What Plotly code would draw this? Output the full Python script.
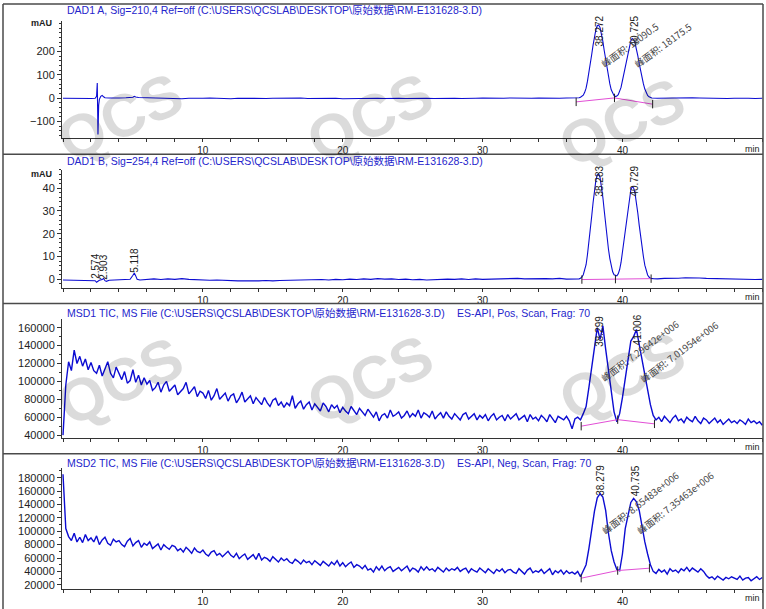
import plotly.graph_objects as go

# ---------------- data ----------------
# DAD1 A, 210 nm : (time [min], signal [mAU])
dad_a_points = [
    (0.0, 0), (0.5, -1), (1.0, 1), (1.5, 0), (2.0, -1), (2.3, 0), (2.4, 8), (2.45, 65), (2.5, -155),
    (2.55, -30), (2.6, -5), (2.7, 8), (2.8, 12), (2.9, 6), (3.0, 2), (3.3, 1), (3.6, 0), (4.0, 1),
    (4.5, 2), (5.0, 4), (5.1, 8), (5.2, 5), (5.4, 3), (6.0, 2), (6.5, 0), (7.0, 1), (7.5, -1), (8.0, 0),
    (8.5, -2), (9.0, 0), (9.5, -1), (10.0, 0), (10.5, 1), (11.0, -1), (11.5, 0), (12.0, -2), (12.5, 0),
    (13.0, -1), (13.5, 1), (14.0, 0), (14.5, -1), (15.0, 0), (15.5, 1), (16.0, -1), (16.5, 0), (17.0, 1),
    (17.5, -1), (18.0, 0), (18.5, -2), (19.0, -1), (19.5, 0), (20.0, -2), (20.5, -1), (21.0, 0), (21.5, -2),
    (22.0, -1), (22.5, 0), (23.0, -1), (23.5, 1), (24.0, 0), (24.5, -1), (25.0, 0), (25.5, 1), (26.0, 0),
    (26.5, -1), (27.0, 0), (27.5, 1), (28.0, 0), (28.5, -1), (29.0, 1), (29.5, 0), (30.0, 1), (30.5, 0),
    (31.0, -1), (31.5, 0), (32.0, 1), (32.5, 0), (33.0, -1), (33.5, 0), (34.0, 1), (34.5, 0), (35.0, -1),
    (35.5, 0), (36.0, 1), (36.5, 0),
    (36.8, 1), (36.9, 2), (37.0, 4), (37.1, 7), (37.2, 13), (37.3, 25), (37.4, 43), (37.5, 73), (37.6, 106),
    (37.7, 144), (37.8, 186), (37.9, 227), (38.0, 264), (38.1, 293), (38.2, 310), (38.3, 313), (38.4, 302),
    (38.5, 277), (38.6, 243), (38.7, 203), (38.8, 162), (38.9, 124), (39.0, 89), (39.1, 61), (39.2, 36),
    (39.3, 21), (39.4, 11), (39.5, 7), (39.6, 9), (39.7, 15), (39.8, 27), (39.9, 46), (40.0, 75), (40.1, 103),
    (40.2, 135), (40.3, 168), (40.4, 200), (40.5, 227), (40.6, 246), (40.7, 255), (40.8, 251), (40.9, 236),
    (41.0, 212), (41.1, 181), (41.2, 148), (41.3, 115), (41.4, 86), (41.5, 61), (41.6, 39), (41.7, 21),
    (41.8, 12), (41.9, 6), (42.0, 3), (42.1, 1),
    (42.5, 0), (43.0, 1), (43.5, 0), (44.0, 2), (44.5, 3), (45.0, 2), (45.5, 1), (46.0, 0), (46.5, 1),
    (47.0, 0), (47.5, -1), (48.0, 0), (48.5, 1), (49.0, 0), (49.5, -1), (50.0, 0),
]

# DAD1 B, 254 nm : (time [min], signal [mAU])
dad_b_points = [
    (0.0, -0.3), (0.5, -0.4), (1.0, -0.2), (1.5, -0.5), (2.0, -0.4), (2.3, -0.6), (2.4, -1.3), (2.5, -0.8),
    (2.6, -0.4), (2.8, -0.1), (2.9, 0.4), (3.0, -0.6), (3.1, -0.9), (3.3, -0.4), (3.6, -0.3), (4.0, -0.4),
    (4.5, -0.2), (4.8, 0.0), (5.0, 1.8), (5.1, 2.8), (5.2, 1.5), (5.3, 0.0), (5.5, -0.3), (6.0, 0.0),
    (6.5, 0.2), (7.0, -0.1), (7.5, 0.2), (8.0, 0.0), (8.5, 0.3), (9.0, 0.0), (9.5, -0.2), (10.0, -0.3),
    (10.5, -0.4), (11.0, -0.3), (11.5, -0.5), (12.0, -0.6), (12.5, -0.7), (13.0, -0.6), (13.5, -0.8),
    (14.0, -0.7), (14.5, -0.5), (15.0, -0.7), (15.5, -0.5), (16.0, -0.4), (16.5, -0.3), (17.0, -0.2),
    (17.5, -0.4), (18.0, -0.3), (18.5, -0.1), (19.0, -0.3), (19.5, 0.0), (20.0, -0.2), (20.5, 0.1),
    (21.0, -0.1), (21.5, 0.2), (22.0, 0.0), (22.5, 0.3), (23.0, 0.1), (23.5, 0.2), (24.0, -0.1), (24.5, 0.1),
    (25.0, -0.2), (25.5, 0.0), (26.0, -0.3), (26.5, -0.1), (27.0, -0.2), (27.5, 0.1), (28.0, 0.0),
    (28.5, 0.2), (29.0, -0.1), (29.5, 0.2), (30.0, 0.0), (30.5, 0.1), (31.0, 0.3), (31.5, 0.1), (32.0, 0.2),
    (32.5, 0.4), (33.0, 0.2), (33.5, 0.3), (34.0, 0.1), (34.5, 0.3), (35.0, 0.2), (35.5, 0.4), (36.0, 0.1),
    (36.5, 0.2), (36.8, 0.1),
    (36.9, 0.2), (37.0, 0.5), (37.1, 1.0), (37.2, 2.0), (37.3, 3.8), (37.4, 6.4), (37.5, 10.9), (37.6, 15.7),
    (37.7, 21.4), (37.8, 27.6), (37.9, 33.6), (38.0, 39.1), (38.1, 43.4), (38.2, 45.9), (38.3, 46.3),
    (38.4, 44.7), (38.5, 41.0), (38.6, 36.0), (38.7, 30.1), (38.8, 24.0), (38.9, 18.4), (39.0, 13.2),
    (39.1, 9.1), (39.2, 5.5), (39.3, 3.3), (39.4, 2.0), (39.5, 1.7), (39.6, 1.5), (39.7, 2.4), (39.8, 4.3),
    (39.9, 7.4), (40.0, 12.1), (40.1, 16.6), (40.2, 21.7), (40.3, 26.9), (40.4, 32.0), (40.5, 36.3),
    (40.6, 39.3), (40.7, 40.7), (40.8, 40.1), (40.9, 37.7), (41.0, 33.9), (41.1, 29.0), (41.2, 23.7),
    (41.3, 18.5), (41.4, 13.9), (41.5, 9.9), (41.6, 6.2), (41.7, 3.4), (41.8, 1.9), (41.9, 1.0), (42.0, 0.5),
    (42.2, 0.3), (42.5, 0.2), (43.0, 0.4), (43.5, 0.3), (44.0, 0.5), (44.5, 0.7), (45.0, 0.8), (45.5, 0.6),
    (46.0, 0.4), (46.5, 0.3), (47.0, 0.2), (47.5, 0.1), (48.0, 0.2), (48.5, 0.0), (49.0, 0.1), (49.5, -0.1),
    (50.0, 0.0),
]

# MSD1 TIC (positive scan), one value every 0.2 min from 0 to 50 min
msd1_tic = [
    40000, 96000, 122000, 112000, 135000, 120000, 128000, 117000, 125000, 113000,
    121000, 112000, 109000, 118000, 106000, 114000, 122000, 109000, 104000, 116000,
    108000, 102000, 111000, 98000, 101000, 113000, 99000, 107000, 96000, 104000,
    97000, 101000, 90000, 93000, 99000, 88000, 96000, 100000, 89000, 92000,
    96000, 85000, 88000, 92000, 99000, 86000, 90000, 94000, 83000, 89000,
    87000, 81000, 90000, 79000, 84000, 92000, 80000, 83000, 87000, 78000,
    84000, 86000, 76000, 81000, 88000, 77000, 80000, 84000, 75000, 82000,
    78000, 74000, 82000, 76000, 72000, 79000, 81000, 73000, 77000, 71000,
    76000, 73000, 84000, 70000, 75000, 78000, 69000, 74000, 77000, 68000,
    75000, 71000, 67000, 76000, 72000, 66000, 74000, 70000, 73000, 65000,
    71000, 67000, 64000, 72000, 68000, 63000, 70000, 66000, 62000, 69000,
    65000, 60000, 66000, 56000, 62000, 64000, 59000, 68000, 61000, 63000,
    66000, 59000, 62000, 67000, 60000, 64000, 61000, 68000, 59000, 65000,
    63000, 60000, 67000, 58000, 62000, 65000, 59000, 66000, 61000, 58000,
    64000, 60000, 57000, 63000, 65000, 58000, 61000, 64000, 57000, 62000,
    59000, 63000, 56000, 61000, 64000, 57000, 60000, 62000, 56000, 63000,
    58000, 61000, 64000, 57000, 59000, 62000, 55000, 63000, 58000, 60000,
    56000, 62000, 59000, 55000, 63000, 58000, 54000, 61000, 59000, 57000,
    61000, 56000, 47000, 58000, 60000, 57000, 64000, 72000, 93000, 114000,
    135000, 160000, 147000, 162000, 136000, 112000, 89000, 66000, 55000, 64000,
    82000, 104000, 126000, 145000, 150000, 158000, 141000, 124000, 104000, 88000,
    74000, 62000, 57000, 60000, 55000, 61000, 58000, 54000, 59000, 62000,
    56000, 58000, 54000, 60000, 57000, 55000, 61000, 56000, 53000, 59000,
    57000, 53000, 56000, 59000, 54000, 57000, 52000, 55000, 58000, 54000,
    56000, 53000, 57000, 55000, 52000, 58000, 54000, 56000, 53000, 55000,
    51000,
]

# MSD2 TIC (negative scan), one value every 0.2 min from 0 to 50 min
msd2_tic = [
    185000, 104000, 92000, 86000, 97000, 84000, 91000, 83000, 95000, 86000,
    90000, 84000, 93000, 80000, 87000, 91000, 82000, 79000, 88000, 84000,
    86000, 80000, 77000, 85000, 89000, 78000, 83000, 86000, 76000, 82000,
    79000, 84000, 74000, 78000, 81000, 72000, 80000, 76000, 73000, 79000,
    77000, 71000, 74000, 69000, 76000, 72000, 67000, 75000, 70000, 68000,
    72000, 66000, 63000, 69000, 71000, 64000, 67000, 62000, 66000, 70000,
    64000, 61000, 67000, 59000, 63000, 66000, 58000, 62000, 65000, 58000,
    67000, 57000, 61000, 59000, 55000, 62000, 58000, 54000, 60000, 56000,
    59000, 54000, 52000, 58000, 55000, 51000, 57000, 53000, 55000, 50000,
    56000, 52000, 49000, 55000, 51000, 48000, 54000, 50000, 56000, 48000,
    53000, 47000, 51000, 54000, 46000, 50000, 48000, 44000, 49000, 42000,
    44000, 39000, 47000, 42000, 48000, 41000, 45000, 47000, 40000, 43000,
    46000, 41000, 44000, 48000, 40000, 45000, 43000, 39000, 47000, 42000,
    47000, 42000, 44000, 40000, 46000, 43000, 39000, 45000, 41000, 44000,
    42000, 46000, 40000, 43000, 45000, 38000, 44000, 41000, 39000, 45000,
    42000, 38000, 44000, 41000, 37000, 43000, 40000, 44000, 38000, 42000,
    43000, 39000, 37000, 44000, 40000, 36000, 42000, 45000, 38000, 41000,
    39000, 43000, 37000, 40000, 44000, 35000, 41000, 38000, 42000, 36000,
    41000, 37000, 39000, 36000, 40000, 32000, 40000, 50000, 74000, 105000,
    130000, 150000, 156000, 151000, 131000, 97000, 71000, 54000, 43000, 41000,
    66000, 104000, 124000, 143000, 149000, 144000, 131000, 105000, 84000, 66000,
    50000, 40000, 37000, 43000, 39000, 42000, 36000, 44000, 40000, 42000,
    38000, 44000, 41000, 46000, 40000, 45000, 42000, 39000, 44000, 40000,
    34000, 30000, 32000, 28000, 33000, 30000, 27000, 31000, 29000, 32000,
    30000, 28000, 33000, 27000, 30000, 31000, 26000, 29000, 32000, 28000,
    31000,
]
msd_step_min = 0.2

# integration baselines (start, valley, end) per panel
dad_a_baseline = [(36.69, -15.7), (39.43, 1.3), (42.16, -25.5)]
dad_b_baseline = [(37.10, -0.1), (39.50, 0.1), (42.05, 0.3)]
msd1_baseline = [(37.05, 50000), (39.66, 57300), (42.29, 52600)]
msd2_baseline = [(37.05, 29900), (39.66, 41300), (41.93, 44800)]

# peak retention-time labels: (text, time, height)
dad_a_rt = [("38.272", 38.37, 288), ("40.725", 40.87, 288)]
dad_b_rt = [("2.574", 2.36, 5.5), ("2.903", 2.93, 5.5), ("5.118", 5.10, 8.3),
            ("38.283", 38.37, 43.2), ("40.729", 40.87, 43.2)]
msd1_rt = [("38.299", 38.39, 156400), ("41.006", 41.06, 157300)]
msd2_rt = [("38.279", 38.37, 176300), ("40.735", 40.94, 175600)]

# peak area labels: (text, time, height)
dad_a_area = [("峰面积: 18090.5", 40.52, 228), ("峰面积: 18175.5", 42.91, 228)]
msd1_area = [("峰面积: 7.29642e+006", 41.23, 133700), ("峰面积: 7.01954e+006", 44.04, 133300)]
msd2_area = [("峰面积: 8.65483e+006", 41.25, 142900), ("峰面积: 7.35463e+006", 43.75, 142900)]

panel_titles = [
    ("DAD1 A, Sig=210,4 Ref=off (C:\\USERS\\QCSLAB\\DESKTOP\\原始数据\\RM-E131628-3.D)", ""),
    ("DAD1 B, Sig=254,4 Ref=off (C:\\USERS\\QCSLAB\\DESKTOP\\原始数据\\RM-E131628-3.D)", ""),
    ("MSD1 TIC, MS File (C:\\USERS\\QCSLAB\\DESKTOP\\原始数据\\RM-E131628-3.D)", "ES-API, Pos, Scan, Frag: 70"),
    ("MSD2 TIC, MS File (C:\\USERS\\QCSLAB\\DESKTOP\\原始数据\\RM-E131628-3.D)", "ES-API, Neg, Scan, Frag: 70"),
]
x_tick_values = [10, 20, 30, 40]
y_tick_values = [
    [-100, 0, 100, 200],
    [0, 10, 20, 30, 40],
    [40000, 60000, 80000, 100000, 120000, 140000, 160000],
    [20000, 40000, 60000, 80000, 100000, 120000, 140000, 160000, 180000],
]
watermark_text = "QCS"

# ---------------- layout geometry / style ----------------
W, H = 766, 609
BLUE = '#0c0cd2'
PINK = '#e24fd6'
AXC = '#333333'
FRAME = '#4a4a4a'
FONT = 'Arial, "Liberation Sans", "Noto Sans CJK SC", sans-serif'
CJK = '"Noto Sans CJK SC", Arial, sans-serif'


def px_x(p):
    return p / W


def px_y(p):
    return 1 - p / H


panel_geo = [
    dict(top=20.7, bot=138.3, rng=[-168.5, 331.9], minor=20, ty=10, lab=149.5),
    dict(top=170.8, bot=289.0, rng=[-3.62, 48.0], minor=2, ty=162, lab=298.5),
    dict(top=321.0, bot=440.0, rng=[36990, 169220], minor=10000, ty=314.5, lab=449.0),
    dict(top=470.0, bot=591.7, rng=[14060, 194890], minor=10000, ty=465, lab=601.0),
]
X_RANGE = [-0.072, 50.05]
X_DOMAIN = [px_x(62), px_x(763)]

fig = go.Figure()

series = [
    ([p[0] for p in dad_a_points], [p[1] for p in dad_a_points], 1.1),
    ([p[0] for p in dad_b_points], [p[1] for p in dad_b_points], 1.1),
    ([round(i * msd_step_min, 1) for i in range(len(msd1_tic))], msd1_tic, 1.4),
    ([round(i * msd_step_min, 1) for i in range(len(msd2_tic))], msd2_tic, 1.4),
]
baselines = [dad_a_baseline, dad_b_baseline, msd1_baseline, msd2_baseline]
rt_labels = [dad_a_rt, dad_b_rt, msd1_rt, msd2_rt]
area_labels = [dad_a_area, [], msd1_area, msd2_area]
area_angles = [-36, 0, -37, -38]

annotations = []
shapes = []

# "QCS" watermark (light, semi-transparent, tilted)
for (cx, cy) in [(120, 118), (370, 118), (622, 123), (120, 383), (370, 381), (622, 378)]:
    annotations.append(dict(text='<b>%s</b>' % watermark_text, xref='paper', yref='paper',
                            x=px_x(cx), y=px_y(cy), xanchor='center', yanchor='middle',
                            textangle=-25, showarrow=False,
                            font=dict(family=FONT, size=60, color='rgba(0,0,0,0.14)')))

for i in range(4):
    sfx = '' if i == 0 else str(i + 1)
    xr, yr = 'x' + sfx, 'y' + sfx
    t, v, lw = series[i]
    fig.add_trace(go.Scatter(x=t, y=v, mode='lines', line=dict(color=BLUE, width=lw),
                             xaxis=xr, yaxis=yr, showlegend=False, hoverinfo='skip'))
    bl = baselines[i]
    fig.add_trace(go.Scatter(x=[b[0] for b in bl], y=[b[1] for b in bl], mode='lines+markers',
                             line=dict(color=PINK, width=1),
                             marker=dict(symbol='line-ns', size=6, line=dict(color='#222', width=1), color='#222'),
                             xaxis=xr, yaxis=yr, showlegend=False, hoverinfo='skip'))
    g = panel_geo[i]
    fig.layout['xaxis' + sfx] = dict(
        domain=X_DOMAIN, range=X_RANGE, anchor=yr, tickmode='array', tickvals=x_tick_values,
        ticks='outside', ticklen=3, tickcolor=AXC, showline=True, linecolor=AXC, linewidth=1,
        showgrid=False, zeroline=False, tickfont=dict(family=FONT, size=10, color='#222'),
        minor=dict(tickmode='linear', tick0=0, dtick=2, ticks='outside', ticklen=3, tickcolor=AXC),
    )
    fig.layout['yaxis' + sfx] = dict(
        domain=[px_y(g['bot']), px_y(g['top'])], range=g['rng'], anchor=xr,
        tickmode='array', tickvals=y_tick_values[i], tickformat='d',
        ticks='outside', ticklen=4, tickcolor=AXC, showline=True, linecolor=AXC, linewidth=1,
        showgrid=False, zeroline=False, tickfont=dict(family=FONT, size=11, color='#222'),
        minor=dict(tickmode='linear', tick0=0, dtick=g['minor'], ticks='outside', ticklen=2, tickcolor=AXC),
    )
    t1, t2 = panel_titles[i]
    annotations.append(dict(text=t1, xref='paper', yref='paper', x=px_x(65), y=px_y(g['ty']),
                            xanchor='left', yanchor='middle', showarrow=False,
                            font=dict(family=FONT, size=10.5, color='#2525cc')))
    if t2:
        annotations.append(dict(text=t2, xref='paper', yref='paper', x=px_x(455), y=px_y(g['ty']),
                                xanchor='left', yanchor='middle', showarrow=False,
                                font=dict(family=FONT, size=10.5, color='#2525cc')))
    annotations.append(dict(text='min', xref='paper', yref='paper', x=px_x(762), y=px_y(g['lab']),
                            xanchor='right', yanchor='middle', showarrow=False,
                            font=dict(family=FONT, size=9, color='#222')))
    for (txt, xx, yy) in rt_labels[i]:
        annotations.append(dict(text=txt, xref=xr, yref=yr, x=xx, y=yy, textangle=-90,
                                xanchor='center', yanchor='middle', showarrow=False,
                                font=dict(family=FONT, size=10, color='#222')))
    for (txt, xx, yy) in area_labels[i]:
        annotations.append(dict(text=txt, xref=xr, yref=yr, x=xx, y=yy, textangle=area_angles[i],
                                xanchor='center', yanchor='middle', showarrow=False,
                                font=dict(family=CJK, size=9.5, color='#444')))

for ty in (23.5, 175.0):
    annotations.append(dict(text='<b>mAU</b>', xref='paper', yref='paper', x=px_x(54), y=px_y(ty),
                            xanchor='right', yanchor='middle', showarrow=False,
                            font=dict(family=FONT, size=9, color='#222')))


def pline(x0, y0, x1, y1):
    shapes.append(dict(type='line', xref='paper', yref='paper', x0=px_x(x0), y0=px_y(y0),
                       x1=px_x(x1), y1=px_y(y1), line=dict(color=FRAME, width=1.5)))


pline(3, 4, 763, 4)
pline(3, 4, 3, 615)
pline(763, 4, 763, 615)
for sy in (155, 305, 456):
    pline(3, sy, 763, sy)

fig.update_layout(width=W, height=H, margin=dict(l=0, r=0, t=0, b=0),
                  paper_bgcolor='white', plot_bgcolor='white',
                  annotations=annotations, shapes=shapes, showlegend=False)

fig.write_html("out.html", config={'displayModeBar': False},
               post_script="document.body.style.margin='0px';document.body.style.overflow='hidden';")
